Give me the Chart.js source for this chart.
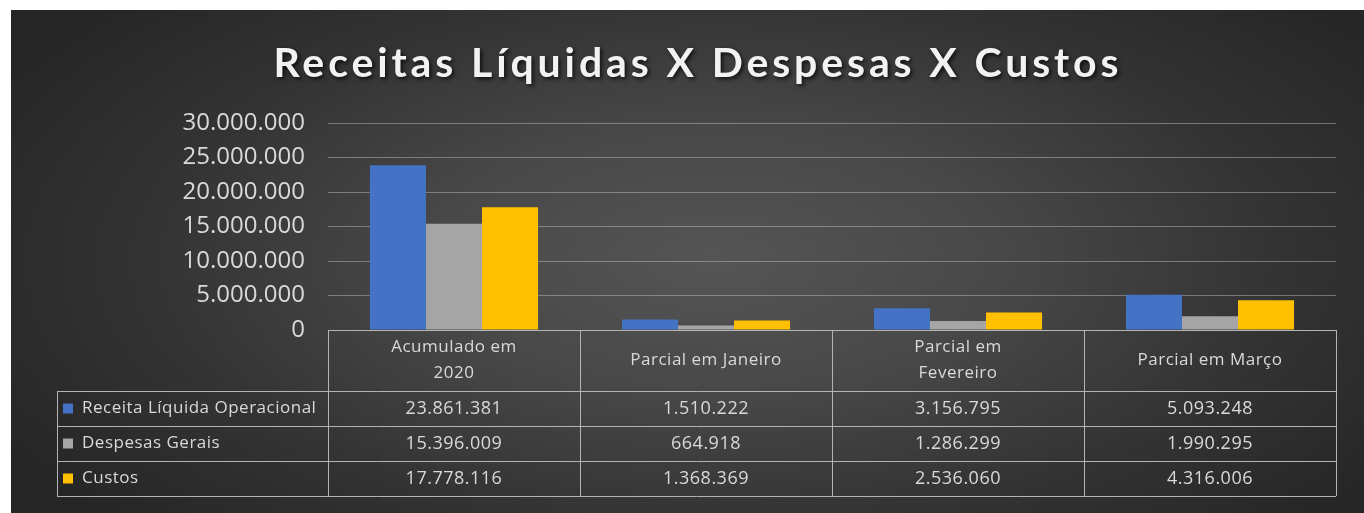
<!DOCTYPE html>
<html>
<head>
<meta charset="utf-8">
<script src="https://cdn.jsdelivr.net/npm/chart.js@4"></script>
<style>
  html, body { margin: 0; padding: 0; background: #fff; }
  #wrap {
    position: absolute; left: 11px; top: 10px; width: 1353px; height: 503px;
    background: radial-gradient(ellipse 60% 75% at 52% 50%, #555555 0%, #484848 35%, #333333 70%, #262626 100%);
  }
</style>
</head>
<body>
<div id="wrap"><canvas id="chart"></canvas></div>
<script>
const titleText = 'Receitas Líquidas X Despesas X Custos';
const categories = [['Acumulado em', '2020'], ['Parcial em Janeiro'], ['Parcial em', 'Fevereiro'], ['Parcial em Março']];
const seriesNames = ['Receita Líquida Operacional', 'Despesas Gerais', 'Custos'];
const receita = [23861381, 1510222, 3156795, 5093248];
const despesas = [15396009, 664918, 1286299, 1990295];
const custos = [17778116, 1368369, 2536060, 4316006];
const seriesColors = ['#4472C4', '#A5A5A5', '#FFC000'];
const yMax = 30000000;
const yStep = 5000000;

const textColor = '#d9d9d9';
const fmt = (v) => String(v).replace(/\B(?=(\d{3})+(?!\d))/g, '.');

// Excel-style data table drawn under the plot, columns taken from the x scale
const dataTable = {
    id: 'dataTable',
    afterDraw(chart) {
        const { ctx, chartArea } = chart;
        const x = chart.scales.x;
        const colW = x.width / categories.length;
        const top = chartArea.bottom;
        const headerH = 61;
        const rowH = 35;
        const tableLeft = 46;
        const rows = [receita, despesas, custos];
        const bottom = top + headerH + rowH * rows.length;

        ctx.save();
        ctx.strokeStyle = '#b4b4b4';
        ctx.lineWidth = 1;
        ctx.beginPath();
        // header top
        ctx.moveTo(chartArea.left, top + 0.5);
        ctx.lineTo(chartArea.right, top + 0.5);
        // row lines
        for (let r = 0; r <= rows.length; r++) {
            const y = Math.round(top + headerH + r * rowH) + 0.5;
            ctx.moveTo(tableLeft, y);
            ctx.lineTo(chartArea.right, y);
        }
        // column lines
        for (let c = 0; c <= categories.length; c++) {
            const xx = Math.round(chartArea.left + c * colW) + 0.5;
            ctx.moveTo(xx, top);
            ctx.lineTo(xx, bottom);
        }
        ctx.moveTo(tableLeft + 0.5, top + headerH);
        ctx.lineTo(tableLeft + 0.5, bottom);
        ctx.stroke();

        ctx.fillStyle = textColor;
        ctx.textBaseline = 'middle';
        ctx.textAlign = 'center';
        ctx.letterSpacing = '0.5px';

        // header
        ctx.font = '17px "Open Sans"';
        categories.forEach((lines, i) => {
            const cx = x.getPixelForValue(i);
            const cy = top + headerH / 2;
            const lh = 26;
            lines.forEach((ln, k) => {
                ctx.fillText(ln, cx, cy + (k - (lines.length - 1) / 2) * lh);
            });
        });

        // rows
        rows.forEach((vals, r) => {
            const cy = top + headerH + r * rowH + rowH / 2;
            ctx.font = '18px "Open Sans"';
            ctx.textAlign = 'center';
            vals.forEach((v, i) => {
                ctx.fillText(fmt(v), x.getPixelForValue(i), cy);
            });
            ctx.fillStyle = seriesColors[r];
            ctx.fillRect(tableLeft + 6, cy - 5, 10, 10);
            ctx.fillStyle = textColor;
            ctx.font = '17px "Open Sans"';
            ctx.textAlign = 'left';
            ctx.fillText(seriesNames[r], tableLeft + 25, cy);
        });
        ctx.restore();
    }
};

// Title with letter spacing and a drop shadow
const spacedTitle = {
    id: 'spacedTitle',
    afterDraw(chart) {
        const { ctx } = chart;
        ctx.save();
        ctx.font = 'bold 41px Lato';
        ctx.letterSpacing = '0px';
        const w = ctx.measureText(titleText).width;
        const target = 845;
        ctx.letterSpacing = ((target - w) / (titleText.length - 1)) + 'px';
        ctx.fillStyle = '#f2f2f2';
        ctx.textAlign = 'left';
        ctx.textBaseline = 'alphabetic';
        ctx.shadowColor = 'rgba(0,0,0,0.75)';
        ctx.shadowBlur = 4;
        ctx.shadowOffsetX = 2;
        ctx.shadowOffsetY = 2;
        ctx.fillText(titleText, 685 - target / 2, 67);
        ctx.restore();
    }
};

new Chart(document.getElementById('chart'), {
    type: 'bar',
    data: {
        labels: categories.map((c) => c.join(' ')),
        datasets: [
            { label: seriesNames[0], data: receita, backgroundColor: seriesColors[0] },
            { label: seriesNames[1], data: despesas, backgroundColor: seriesColors[1] },
            { label: seriesNames[2], data: custos, backgroundColor: seriesColors[2] },
        ],
    },
    options: {
        responsive: true,
        maintainAspectRatio: false,
        animation: false,
        layout: { padding: { top: 113, right: 28, bottom: 183, left: 0 } },
        datasets: { bar: { categoryPercentage: 0.667, barPercentage: 1.0 } },
        plugins: {
            legend: { display: false },
            title: { display: false },
            tooltip: { enabled: false },
        },
        scales: {
            x: { display: false },
            y: {
                min: 0,
                max: yMax,
                afterFit: (scale) => { scale.width = 317; },
                border: { display: false },
                grid: {
                    drawTicks: false,
                    color: (c) => (c.tick && c.tick.value === 0 ? 'rgba(0,0,0,0)' : 'rgba(200,200,200,0.45)'),
                },
                ticks: {
                    stepSize: yStep,
                    padding: 23,
                    color: textColor,
                    font: { family: 'Open Sans', size: 24 },
                    callback: (v) => fmt(v),
                },
            },
        },
    },
    plugins: [dataTable, spacedTitle],
});
</script>
</body>
</html>
